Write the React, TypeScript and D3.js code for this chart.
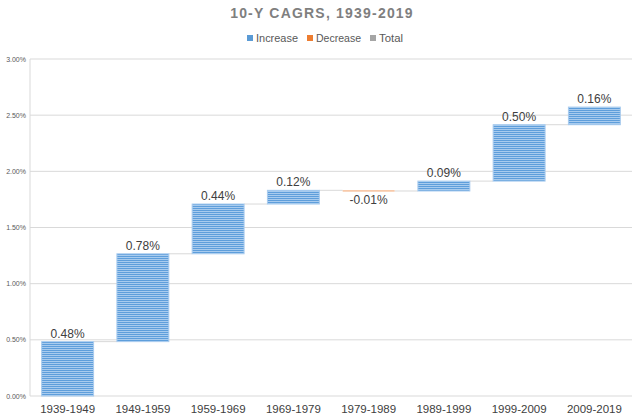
import React, { useEffect } from "react";
import * as d3 from "d3";

const categories = ["1939-1949", "1949-1959", "1959-1969", "1969-1979", "1979-1989", "1989-1999", "1999-2009", "2009-2019"];
const changes = [0.484, 0.782, 0.443, 0.122, -0.006, 0.088, 0.502, 0.157];
const yTicks = [0, 0.5, 1.0, 1.5, 2.0, 2.5, 3.0];
const legendItems = [
  { label: "Increase", color: "#5B9BD5" },
  { label: "Decrease", color: "#ED7D31" },
  { label: "Total", color: "#A5A5A5" },
];

const W = 640, H = 419;
const left = 30, right = 632, top = 59, bottom = 396;
const FONT = "'Liberation Sans', Arial, sans-serif";

export default function App() {
  useEffect(() => {
    document.body.style.margin = "0";
  }, []);

  const x = d3.scaleBand<string>().domain(categories).range([left, right]).paddingInner(0.31).paddingOuter(0.155);
  const y = d3.scaleLinear().domain([0, 3]).range([bottom, top]);

  let cum = 0;
  const bars = changes.map((v, i) => {
    const start = cum;
    cum += v;
    return { cat: categories[i], v, start, end: cum };
  });

  const legendX = [247, 307, 370];

  return (
    <svg width={W} height={H} style={{ display: "block", background: "#fff" }}>
      <defs>
        <pattern id="stripeBlue" width="4" height="2" patternUnits="userSpaceOnUse">
          <rect width="4" height="2" fill="#A8CBEE" />
          <rect width="4" height="1" fill="#5E9EDB" />
        </pattern>
      </defs>
      <text x={322} y={18} textAnchor="middle" fontFamily={FONT} fontWeight="bold" fontSize={14} letterSpacing="1.2" fill="#7F7F7F">
        10-Y CAGRS, 1939-2019
      </text>
      {legendItems.map((it, i) => (
        <g key={it.label}>
          <rect x={legendX[i]} y={35} width={6} height={6} fill={it.color} />
          <text x={legendX[i] + 9} y={42} fontFamily={FONT} fontSize={11} fill="#595959" textLength={i === 0 ? 42 : i === 1 ? 45 : 24} lengthAdjust="spacingAndGlyphs">{it.label}</text>
        </g>
      ))}
      {yTicks.map((t) => (
        <g key={t}>
          <line x1={left} x2={right} y1={y(t)} y2={y(t)} stroke="#D9D9D9" strokeWidth={1} />
          <text x={26} y={y(t) + 2.5} textAnchor="end" fontFamily={FONT} fontSize={7} fill="#595959">
            {t.toFixed(2)}%
          </text>
        </g>
      ))}
      <line x1={left} x2={left} y1={top} y2={bottom} stroke="#D9D9D9" strokeWidth={1} />
      {bars.map((b, i) => {
        if (i === bars.length - 1) return null;
        const nx = bars[i + 1].cat;
        return (
          <line key={"c" + i} x1={(x(b.cat) as number) + x.bandwidth()} x2={x(nx) as number} y1={y(b.end)} y2={y(b.end)} stroke="#D9D9D9" strokeWidth={1} />
        );
      })}
      {bars.map((b) => {
        const bx = x(b.cat) as number;
        const y0 = y(Math.max(b.start, b.end));
        const h = Math.max(1.2, Math.abs(y(b.start) - y(b.end)));
        const inc = b.v >= 0;
        return (
          <g key={b.cat}>
            <rect x={bx} y={y0} width={x.bandwidth()} height={h} fill={inc ? "url(#stripeBlue)" : "#F4B183"} stroke={inc ? "#A8CBEE" : "none"} strokeWidth={inc ? 1 : 0} />
            <text
              x={bx + x.bandwidth() / 2}
              y={inc ? y0 - 4 : y0 + h + 12}
              textAnchor="middle"
              fontFamily={FONT}
              fontSize={12}
              fill="#404040"
            >
              {b.v.toFixed(2)}%
            </text>
          </g>
        );
      })}
      {categories.map((c) => (
        <text key={c} x={(x(c) as number) + x.bandwidth() / 2} y={413} textAnchor="middle" fontFamily={FONT} fontSize={11.5} fill="#404040">
          {c}
        </text>
      ))}
    </svg>
  );
}
